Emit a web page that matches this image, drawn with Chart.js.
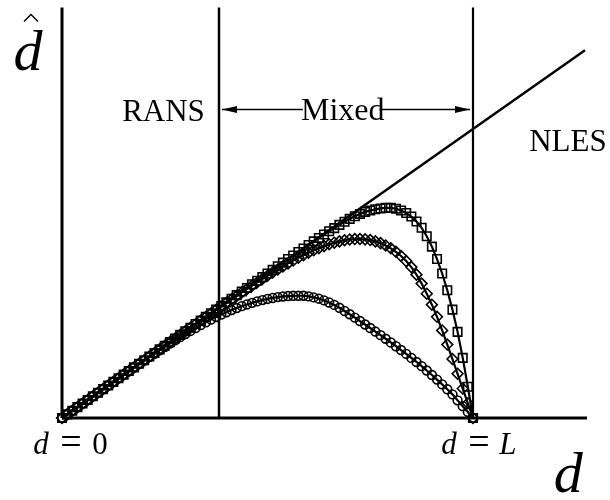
<!DOCTYPE html>
<html>
<head>
<meta charset="utf-8">
<script src="https://cdn.jsdelivr.net/npm/chart.js@4.4.0/dist/chart.umd.min.js"></script>
<style>
  html, body { margin: 0; padding: 0; background: #ffffff; }
  canvas { display: block; }
</style>
</head>
<body>
<canvas id="chart" width="610" height="500"></canvas>
<script>
// Wall distance d, normalised by the interface length L
const dValues = [
  0, 0.0125, 0.025, 0.0375, 0.05, 0.0625, 0.075, 0.0875, 0.1, 0.1125,
  0.125, 0.1375, 0.15, 0.1625, 0.175, 0.1875, 0.2, 0.2125, 0.225, 0.2375,
  0.25, 0.2625, 0.275, 0.2875, 0.3, 0.3125, 0.325, 0.3375, 0.35, 0.3625,
  0.375, 0.3875, 0.4, 0.4125, 0.425, 0.4375, 0.45, 0.4625, 0.475, 0.4875,
  0.5, 0.5125, 0.525, 0.5375, 0.55, 0.5625, 0.575, 0.5875, 0.6, 0.6125,
  0.625, 0.6375, 0.65, 0.6625, 0.675, 0.6875, 0.7, 0.7125, 0.725, 0.7375,
  0.75, 0.7625, 0.775, 0.7875, 0.8, 0.8125, 0.825, 0.8375, 0.85, 0.8625,
  0.875, 0.8875, 0.9, 0.9125, 0.925, 0.9375, 0.95, 0.9625, 0.975, 0.9875, 1
];

// Modified length scale d-hat for the three blending variants
const dHatSquares = [
  0, 0.0125, 0.025, 0.0375, 0.05, 0.0625, 0.075, 0.0875, 0.1, 0.1125,
  0.125, 0.1375, 0.15, 0.1625, 0.175, 0.1875, 0.2, 0.2125, 0.225, 0.2375,
  0.25, 0.2625, 0.275, 0.2875, 0.3, 0.3125, 0.325, 0.3375, 0.35, 0.3625,
  0.375, 0.3875, 0.4, 0.4125, 0.425, 0.4375, 0.45, 0.4625, 0.475, 0.4875,
  0.5, 0.5125, 0.525, 0.5375, 0.55, 0.5624, 0.5745, 0.5866, 0.5986, 0.611,
  0.623, 0.635, 0.646, 0.657, 0.668, 0.679, 0.689, 0.698, 0.706, 0.713,
  0.718, 0.722, 0.725, 0.727, 0.727, 0.724, 0.718, 0.709, 0.697, 0.680,
  0.658, 0.629, 0.593, 0.550, 0.500, 0.442, 0.375, 0.298, 0.208, 0.108, 0
];
const dHatDiamonds = [
  0, 0.0125, 0.025, 0.0375, 0.05, 0.0625, 0.075, 0.0875, 0.1, 0.1125,
  0.125, 0.1375, 0.15, 0.1625, 0.175, 0.1875, 0.2, 0.2125, 0.225, 0.2375,
  0.25, 0.2625, 0.275, 0.2875, 0.3, 0.3122, 0.3246, 0.337, 0.3494, 0.3617,
  0.374, 0.3862, 0.3984, 0.4105, 0.4225, 0.4344, 0.4463, 0.458, 0.4695, 0.481,
  0.4922, 0.5032, 0.514, 0.5245, 0.5348, 0.5447, 0.5542, 0.5633, 0.572, 0.5802,
  0.5877, 0.5947, 0.601, 0.6065, 0.6111, 0.6149, 0.6176, 0.619, 0.6192, 0.618,
  0.6155, 0.611, 0.605, 0.597, 0.587, 0.575, 0.5605, 0.543, 0.522, 0.496,
  0.465, 0.43, 0.392, 0.35, 0.303, 0.254, 0.204, 0.153, 0.102, 0.051, 0
];
const dHatCircles = [
  0, 0.0125, 0.025, 0.0375, 0.05, 0.0625, 0.075, 0.0875, 0.1, 0.1124,
  0.1248, 0.1372, 0.1496, 0.1619, 0.1742, 0.1864, 0.1985, 0.2105, 0.2224, 0.2342,
  0.2458, 0.2573, 0.2686, 0.2797, 0.2906, 0.3012, 0.3115, 0.3215, 0.3312, 0.3405,
  0.3494, 0.3579, 0.3659, 0.3734, 0.3804, 0.3869, 0.3929, 0.3984, 0.4034, 0.4079,
  0.4119, 0.4153, 0.4182, 0.4205, 0.4219, 0.4227, 0.423, 0.4229, 0.4206, 0.4173,
  0.4128, 0.4069, 0.3997, 0.3912, 0.3813, 0.3703, 0.3589, 0.3473, 0.3354, 0.3234,
  0.3113, 0.299, 0.2866, 0.2741, 0.2614, 0.2484, 0.2351, 0.2216, 0.2079, 0.1938,
  0.1793, 0.1643, 0.1488, 0.1328, 0.1163, 0.0993, 0.0818, 0.061, 0.041, 0.021, 0
];

// Region limits in d: the wall, the RANS / mixed interface and d = L
const wallD = 0;
const ransLimitD = 0.382;
const lengthL = 1;
// Extent of the d-hat = d reference line and of both axes
const diagonalEndD = 1.2725;
const dAxisMax = 1.2774;
const dHatAxisMax = 1.4198;

const toPoints = (xs, ys) => xs.map((v, i) => ({ x: v, y: ys[i] }));

const serif = '"Liberation Serif", "Times New Roman", serif';

function guide(points, width) {
  return {
    data: points,
    borderColor: '#000',
    borderWidth: width,
    pointRadius: 0,
    fill: false,
    clip: false
  };
}

function series(ys, style, radius) {
  return {
    data: toPoints(dValues, ys),
    borderColor: '#000',
    borderWidth: 2.2,
    pointStyle: style,
    pointRadius: radius,
    pointBorderWidth: 1.6,
    pointBorderColor: '#000',
    pointBackgroundColor: 'rgba(0,0,0,0)',
    fill: false,
    clip: false
  };
}

const annotations = {
  id: 'annotations',
  afterDatasetsDraw(chart) {
    const { ctx, scales: { x, y } } = chart;
    ctx.save();
    ctx.fillStyle = '#000';
    ctx.strokeStyle = '#000';
    ctx.textBaseline = 'alphabetic';
    ctx.textAlign = 'center';

    // region names
    ctx.font = `31px ${serif}`;
    ctx.fillText('RANS', x.getPixelForValue(0.247), y.getPixelForValue(1.027));
    ctx.fillText('NLES', x.getPixelForValue(1.231), y.getPixelForValue(0.925));

    // double arrow spanning the mixed region
    const ay = Math.round(y.getPixelForValue(1.068)) + 0.5;
    const ax0 = x.getPixelForValue(ransLimitD) + 3;
    const ax1 = x.getPixelForValue(lengthL) - 3;
    const mx = x.getPixelForValue(0.683);
    ctx.font = `32px ${serif}`;
    const tw = ctx.measureText('Mixed').width;
    ctx.lineWidth = 1.3;
    ctx.beginPath();
    ctx.moveTo(ax0, ay);
    ctx.lineTo(mx - tw / 2 + 2, ay);
    ctx.moveTo(mx + tw / 2 - 5, ay);
    ctx.lineTo(ax1, ay);
    ctx.stroke();
    const head = (tx, dir) => {
      ctx.beginPath();
      ctx.moveTo(tx, ay);
      ctx.lineTo(tx - dir * 15, ay - 3.5);
      ctx.lineTo(tx - dir * 15, ay + 3.5);
      ctx.closePath();
      ctx.fill();
    };
    head(ax0, -1);
    head(ax1, 1);
    ctx.fillText('Mixed', mx, y.getPixelForValue(1.031));

    // d = 0 and d = L under the horizontal axis
    const by = y.getPixelForValue(0) + 36;
    const mathLabel = (px, rhs, rhsItalic) => {
      ctx.font = `italic 31px ${serif}`;
      ctx.fillText('d', px - 21, by);
      ctx.font = `38px ${serif}`;
      ctx.fillText('=', px + 9, by);
      ctx.font = `${rhsItalic ? 'italic ' : ''}31px ${serif}`;
      ctx.fillText(rhs, px + 38, by);
    };
    mathLabel(x.getPixelForValue(wallD), '0', false);
    mathLabel(x.getPixelForValue(lengthL) - 3, 'L', true);

    // axis symbols
    ctx.font = `italic 58px ${serif}`;
    ctx.fillText('d', x.getPixelForValue(1.232), y.getPixelForValue(0) + 74);
    const hx = x.getPixelForValue(0) - 34;
    const hy = y.getPixelForValue(dHatAxisMax) + 62;
    ctx.fillText('d', hx, hy);
    ctx.lineWidth = 1.4;
    ctx.beginPath();
    ctx.moveTo(hx - 4, hy - 48);
    ctx.lineTo(hx + 3, hy - 55);
    ctx.lineTo(hx + 10, hy - 48);
    ctx.stroke();
    ctx.restore();
  }
};

new Chart(document.getElementById('chart'), {
  type: 'line',
  data: {
    datasets: [
      series(dHatSquares, 'rect', 6),
      series(dHatDiamonds, 'rectRot', 5.4),
      series(dHatCircles, 'circle', 4.4),
      guide([{ x: wallD, y: 0 }, { x: diagonalEndD, y: diagonalEndD }], 2.5),
      guide([{ x: wallD, y: 0 }, { x: dAxisMax, y: 0 }], 3),
      guide([{ x: wallD, y: 0 }, { x: wallD, y: dHatAxisMax }], 3),
      guide([{ x: ransLimitD, y: 0 }, { x: ransLimitD, y: dHatAxisMax }], 2.5),
      guide([{ x: lengthL, y: 0 }, { x: lengthL, y: dHatAxisMax }], 2.2)
    ]
  },
  options: {
    responsive: false,
    devicePixelRatio: 1,
    animation: false,
    layout: { padding: { left: 62, right: 23, top: 2, bottom: 82 } },
    elements: { line: { tension: 0 } },
    scales: {
      x: { type: 'linear', min: 0, max: dAxisMax, display: false },
      y: { type: 'linear', min: 0, max: dHatAxisMax, display: false }
    },
    plugins: {
      legend: { display: false },
      tooltip: { enabled: false }
    }
  },
  plugins: [annotations]
});
</script>
</body>
</html>
